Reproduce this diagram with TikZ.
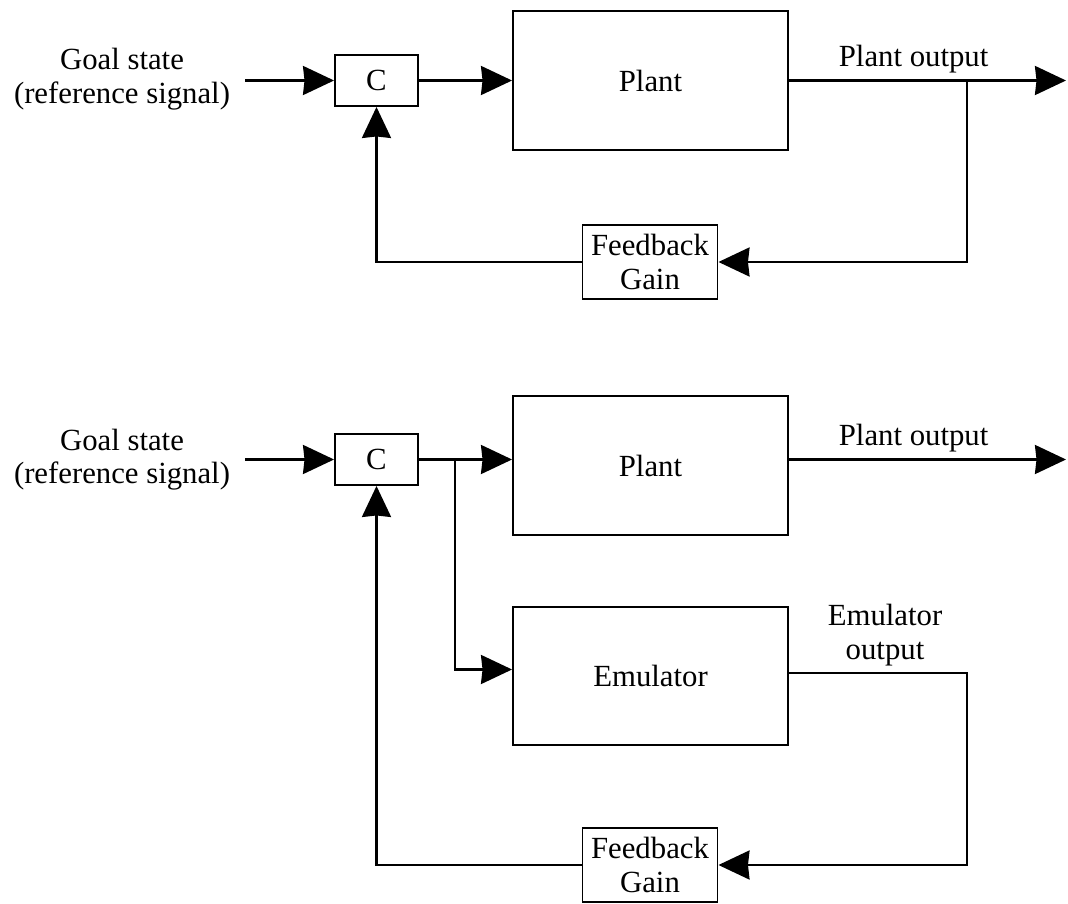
\documentclass[tikz,border=0pt]{standalone}
\usepackage{fontspec}
\setmainfont{Liberation Serif}
\usepackage{tikz}
\usetikzlibrary{shapes,arrows.meta,calc}
\tikzstyle{every node}=[font=\fontsize{17.5}{19}\selectfont,align=center]
\tikzstyle{block}=[draw,line width=1.1pt,inner sep=0pt]
\tikzstyle{wire}=[line width=1.3pt]
\tikzstyle{sig}=[wire,-{Stealth[length=0.62cm,width=0.58cm,inset=0.03cm]}]

\begin{document}
\begin{tikzpicture}
\useasboundingbox (0,0) rectangle (21.36,18.06);

% upper loop: plain feedback
\node[inner xsep=0.3cm] (goalA) at (2.44,16.48) {Goal state\\(reference signal)};
\node[block,minimum width=1.66cm,minimum height=1.02cm] (cA) at (7.53,16.45) {C};
\node[block,minimum width=5.5cm,minimum height=2.78cm] (plantA) at (13.01,16.45) {Plant};
\node[block,minimum width=2.7cm,minimum height=1.48cm] (fbA) at (13.0,12.82) {Feedback\\Gain};
\coordinate (tapA) at (19.34,16.45);
\coordinate (outA) at (21.32,16.45);

\draw[sig] (goalA.east |- cA) -- (cA.west);
\draw[sig] (cA.east) -- (cA.east -| plantA.west);
\draw[sig] (plantA.east) -- (outA) node[pos=0.45,above] {Plant output};
\draw[sig] (tapA) |- (fbA.east);
\draw[sig] (fbA.west) -| (cA.south);

% lower loop: emulator in the feedback path
\node[inner xsep=0.3cm] (goalB) at (2.44,8.87) {Goal state\\(reference signal)};
\node[block,minimum width=1.66cm,minimum height=1.02cm] (cB) at (7.53,8.87) {C};
\node[block,minimum width=5.5cm,minimum height=2.78cm] (plantB) at (13.01,8.75) {Plant};
\node[block,minimum width=5.5cm,minimum height=2.76cm] (emu) at (13.01,4.54) {Emulator};
\node[block,minimum width=2.7cm,minimum height=1.48cm] (fbB) at (13.0,0.76) {Feedback\\Gain};
\coordinate (split) at (9.1,8.87);
\coordinate (outB) at (21.32,8.87);
\coordinate (turn) at (19.34,4.6);
\node (emuLbl) at (17.7,5.36) {Emulator\\output};

\draw[sig] (goalB.east |- cB) -- (cB.west);
\draw[sig] (cB.east) -- (cB.east -| plantB.west);
\draw[sig] (split) |- ($(emu.west)+(0,0.13)$);
\draw[sig] (plantB.east |- outB) -- (outB) node[pos=0.45,above] {Plant output};
\draw[sig] (emu.east |- turn) -- (turn) |- (fbB.east);
\draw[sig] (fbB.west) -| (cB.south);

\end{tikzpicture}
\end{document}
